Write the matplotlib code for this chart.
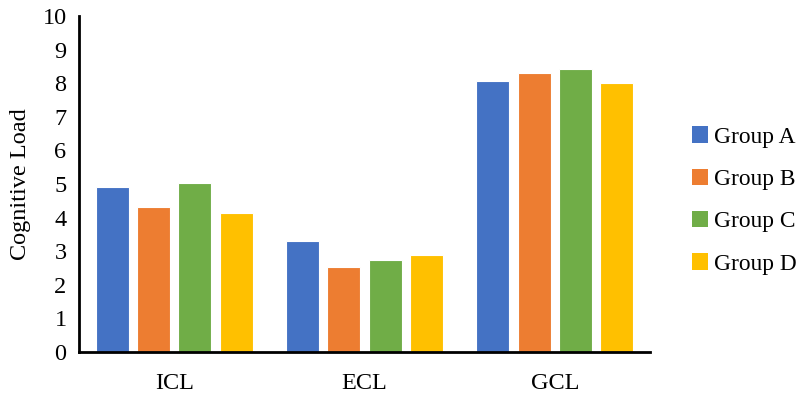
import numpy as np
import matplotlib
matplotlib.use("Agg")
import matplotlib.pyplot as plt
from matplotlib.patches import Patch

categories = ["ICL", "ECL", "GCL"]
groups = ["Group A", "Group B", "Group C", "Group D"]
group_a = [4.90, 3.29, 8.08]
group_b = [4.31, 2.52, 8.29]
group_c = [5.02, 2.75, 8.42]
group_d = [4.15, 2.88, 8.00]
y_ticks = list(range(0, 11))

colors = ["#4472C4", "#ED7D31", "#70AD47", "#FFC000"]

plt.rcParams["font.family"] = ["Liberation Serif", "DejaVu Serif"]
FS = 17.5

fig = plt.figure(figsize=(7.98, 3.97), dpi=100)
ax = fig.add_axes([0.099, 0.1134, 0.7155, 0.8463])

x = np.arange(len(categories))
width = 0.173
step = 0.217
series = [group_a, group_b, group_c, group_d]
for i, (vals, color) in enumerate(zip(series, colors)):
    offset = (i - 1.5) * step
    ax.bar(x + offset, vals, width=width, color=color,
           edgecolor="white", linewidth=0.8, zorder=2)

ax.set_xlim(-0.5, 2.5)
ax.set_ylim(0, 10)
ax.set_yticks(y_ticks)
ax.set_xticks(x)
ax.set_xticklabels(categories)
ax.tick_params(axis="both", length=0, labelsize=FS)
ax.tick_params(axis="x", pad=15)
ax.tick_params(axis="y", pad=9)
ax.set_ylabel("Cognitive Load", fontsize=FS, labelpad=8)

for side in ("top", "right"):
    ax.spines[side].set_visible(False)
for side in ("left", "bottom"):
    ax.spines[side].set_linewidth(2)
    ax.spines[side].set_color("black")

handles = [Patch(facecolor=c, edgecolor="none") for c in colors]
fig.legend(handles, groups, loc="center left", bbox_to_anchor=(0.867, 0.495),
           frameon=False, fontsize=16.8, handlelength=0.7, handleheight=0.7,
           handletextpad=0.25, labelspacing=0.9, borderaxespad=0,
           borderpad=0)

fig.savefig("out.png", dpi=100)
